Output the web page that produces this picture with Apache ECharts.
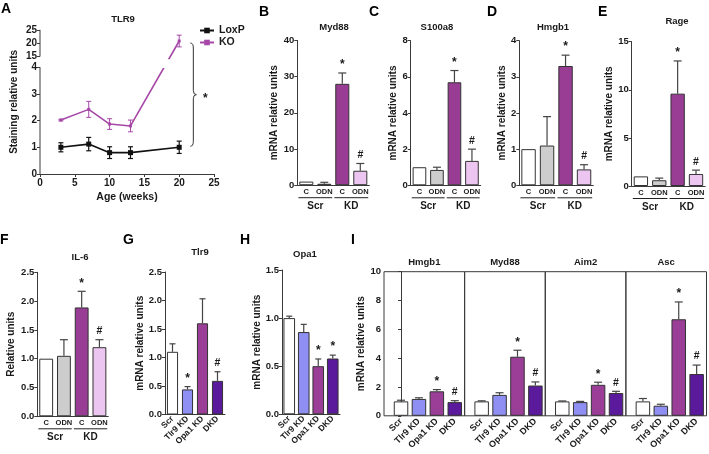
<!DOCTYPE html>
<html><head><meta charset="utf-8">
<script src="https://cdn.jsdelivr.net/npm/echarts@6/dist/echarts.min.js"></script>
<style>html,body{margin:0;padding:0;background:#fff}#c{width:709px;height:454px}</style>
</head><body><div id="c"></div>
<script>
// ---------- Panel A (TLR9 staining) ----------
const ageWeeks = [3, 7, 10, 13, 20];
const loxpMean = [1.0, 1.12, 0.8, 0.8, 1.0];
const loxpErr  = [0.17, 0.25, 0.22, 0.22, 0.23];
const koMean   = [2.02, 2.42, 1.87, 1.8, 20.8];
const koErr    = [0.03, 0.3, 0.2, 0.22, 2.2];
const aTicks   = [0, 1, 2, 3, 4, 15, 20, 25];
const aXTicks  = [0, 5, 10, 15, 20, 25];

// ---------- Panels B–F (Scr / KD, C / ODN) ----------
const scrKdCats   = ['C', 'ODN', 'C', 'ODN'];
const scrKdGroups = ['Scr', 'KD'];
const scrKdSig    = ['', '', '*', '#'];
const myd88Mean  = [1.0, 0.4, 28.0, 4.0];
const myd88Err   = [0, 0.4, 3.0, 2.0];
const s100a8Mean = [1.0, 0.85, 5.7, 1.35];
const s100a8Err  = [0, 0.15, 0.65, 0.65];
const hmgb1Mean  = [1.0, 1.1, 3.3, 0.44];
const hmgb1Err   = [0, 0.8, 0.3, 0.13];
const rageMean   = [1.0, 0.6, 9.6, 1.25];
const rageErr    = [0, 0.22, 3.4, 0.4];
const il6Mean    = [1.0, 1.05, 1.89, 1.2];
const il6Err     = [0, 0.28, 0.28, 0.13];

// ---------- Panels G–I ----------
const kdCats   = ['Scr', 'Tlr9 KD', 'Opa1 KD', 'DKD'];
const tlr9Mean = [1.1, 0.44, 1.6, 0.59];
const tlr9Err  = [0.14, 0.05, 0.43, 0.16];
const tlr9Sig  = ['', '*', '', '#'];
const opa1Mean = [1.0, 0.855, 0.5, 0.58];
const opa1Err  = [0.02, 0.08, 0.075, 0.035];
const opa1Sig  = ['', '', '*', '*'];
const iGenes   = ['Hmgb1', 'Myd88', 'Aim2', 'Asc'];
const iMeans = [
  [1.0, 1.17, 1.7, 0.95],
  [1.0, 1.45, 4.1, 2.1],
  [1.0, 0.95, 2.15, 1.58],
  [1.0, 0.7, 6.7, 2.9]
];
const iErrs = [
  [0.08, 0.08, 0.12, 0.1],
  [0.04, 0.15, 0.45, 0.25],
  [0.03, 0.05, 0.18, 0.12],
  [0.2, 0.1, 1.2, 0.62]
];
const iSig = ['', '', '*', '#'];

// ---------- styling ----------
const FONT = '"Liberation Sans", Arial, Helvetica, sans-serif';
const AX = '#3a3a3a';
const TXT = '#1a1a1a';
const scrKdColors = ['#ffffff', '#cdcdcd', '#983c94', '#ecc6f1'];
const kdColors    = ['#ffffff', '#8f8ff3', '#9a3e98', '#5b1a9b'];
const loxpColor = '#111111';
const koColor   = '#a648a8';

// axis break mapping for panel A (display units)
const BRK_LO = 4, BRK_HI = 15, BRK_GAP = 0.4, UP_SCALE = 0.1;
function aDisp(v) { return v <= BRK_LO ? v : BRK_LO + BRK_GAP + (v - BRK_HI) * UP_SCALE; }

const grids = [], xAxes = [], yAxes = [], series = [];

function tickLbl(size) {
  return { fontFamily: FONT, fontWeight: 'bold', fontSize: size, color: TXT };
}
function yAxisBase(gi, min, max, interval, dec, name, gap, extra) {
  return Object.assign({
    type: 'value', gridIndex: gi, min: min, max: max, interval: interval,
    axisLine: { show: true, lineStyle: { color: AX, width: 1 } },
    axisTick: { show: true, inside: false, length: 3, lineStyle: { color: AX } },
    splitLine: { show: false },
    axisLabel: Object.assign({ margin: 3, formatter: v => v.toFixed(dec) }, tickLbl(9.5)),
    name: name, nameLocation: 'middle', nameGap: gap,
    nameTextStyle: { fontFamily: FONT, fontWeight: 'bold', fontSize: 10, color: TXT }
  }, extra || {});
}

function errRender(xs, means, errs, sigs, o) {
  const tf = o.tf || (v => v);
  return function (params, api) {
    const i = params.dataIndex;
    const x = xs[i], m = means[i], e = errs[i];
    const pTop = api.coord([x, tf(m + e)]);
    const pBot = api.coord([x, tf(o.both ? m - e : m)]);
    const hw = o.cap / 2;
    const st = { stroke: o.color, lineWidth: o.lw || 1 };
    const ch = [];
    if (e > 0) {
      ch.push({ type: 'line', shape: { x1: pTop[0], y1: pTop[1], x2: pBot[0], y2: pBot[1] }, style: st });
      ch.push({ type: 'line', shape: { x1: pTop[0] - hw, y1: pTop[1], x2: pTop[0] + hw, y2: pTop[1] }, style: st });
      if (o.both) ch.push({ type: 'line', shape: { x1: pBot[0] - hw, y1: pBot[1], x2: pBot[0] + hw, y2: pBot[1] }, style: st });
    }
    if (sigs && sigs[i]) {
      const star = sigs[i] === '*';
      ch.push({ type: 'text', x: pTop[0], y: pTop[1] - (star ? 2 : 3),
        style: { text: sigs[i], align: 'center', verticalAlign: 'bottom',
          font: 'bold ' + (star ? 12 : 10.5) + 'px ' + FONT, fill: TXT } });
    }
    return { type: 'group', children: ch };
  };
}

// ---------- Panel A ----------
grids.push({ left: 40, top: 29.8, width: 174, height: 144.2 });
xAxes.push({
  type: 'value', gridIndex: 0, min: 0, max: 25, interval: 5,
  axisLine: { show: true, lineStyle: { color: AX } },
  axisTick: { show: true, length: 3, lineStyle: { color: AX } },
  splitLine: { show: false },
  axisLabel: Object.assign({ margin: 4 }, tickLbl(10)),
  name: 'Age (weeks)', nameLocation: 'middle', nameGap: 18,
  nameTextStyle: { fontFamily: FONT, fontWeight: 'bold', fontSize: 10.5, color: TXT }
});
yAxes.push(yAxisBase(0, 0, aDisp(25), null, 0, 'Staining relative units', 21, {
  interval: undefined,
  axisLine: { show: false },
  axisTick: { show: true, length: 3, lineStyle: { color: AX }, customValues: aTicks.map(aDisp) },
  axisLabel: Object.assign({ margin: 3, customValues: aTicks.map(aDisp),
    formatter: v => { let best = aTicks[0]; aTicks.forEach(t => { if (Math.abs(aDisp(t) - v) < Math.abs(aDisp(best) - v)) best = t; }); return String(best); } }, tickLbl(10))
}));
series.push({
  name: 'LoxP', type: 'line', xAxisIndex: 0, yAxisIndex: 0,
  data: ageWeeks.map((x, i) => [x, aDisp(loxpMean[i])]),
  symbol: 'rect', symbolSize: 5, color: loxpColor,
  lineStyle: { color: loxpColor, width: 1.6 }, itemStyle: { color: loxpColor }, z: 3
});
series.push({
  name: 'KO', type: 'line', xAxisIndex: 0, yAxisIndex: 0,
  data: ageWeeks.map((x, i) => [x, aDisp(koMean[i])]),
  symbol: 'rect', symbolSize: 3, color: koColor,
  lineStyle: { color: koColor, width: 1.6 }, itemStyle: { color: koColor }, z: 3
});
series.push({
  name: 'LoxP err', type: 'custom', xAxisIndex: 0, yAxisIndex: 0, clip: false, z: 4,
  data: ageWeeks.map((x, i) => [x, aDisp(loxpMean[i])]),
  renderItem: errRender(ageWeeks, loxpMean, loxpErr, null, { both: true, cap: 5, color: loxpColor, lw: 1.2, tf: aDisp })
});
series.push({
  name: 'KO err', type: 'custom', xAxisIndex: 0, yAxisIndex: 0, clip: false, z: 4,
  data: ageWeeks.map((x, i) => [x, aDisp(koMean[i])]),
  renderItem: errRender(ageWeeks, koMean, koErr, null, { both: true, cap: 5, color: koColor, lw: 1, tf: aDisp })
});
// broken y axis line + gap across the break + significance bracket
series.push({
  name: 'axis break', type: 'custom', xAxisIndex: 0, yAxisIndex: 0, clip: false, z: 6, silent: true,
  data: [[0, 0]],
  renderItem: function (params, api) {
    const a0 = api.coord([0, aDisp(0)]), a1 = api.coord([0, aDisp(BRK_LO)]);
    const b0 = api.coord([0, aDisp(BRK_HI)]), b1 = api.coord([0, aDisp(25)]);
    const g0 = api.coord([14, BRK_LO - 0.03]), g1 = api.coord([20.6, BRK_LO + 0.3]);
    const last = ageWeeks.length - 1;
    const bx = api.coord([21.6, 0])[0];
    const top = api.coord([0, aDisp(koMean[last])])[1] + 2;
    const bot = api.coord([0, aDisp(loxpMean[last])])[1] - 1;
    const mid = (top + bot) / 2;
    const path = 'M' + bx + ' ' + top + ' Q' + (bx + 3) + ' ' + top + ' ' + (bx + 3) + ' ' + (top + 5) +
      ' L' + (bx + 3) + ' ' + (mid - 4) + ' Q' + (bx + 3) + ' ' + mid + ' ' + (bx + 6) + ' ' + mid +
      ' Q' + (bx + 3) + ' ' + mid + ' ' + (bx + 3) + ' ' + (mid + 4) +
      ' L' + (bx + 3) + ' ' + (bot - 5) + ' Q' + (bx + 3) + ' ' + bot + ' ' + bx + ' ' + bot;
    return { type: 'group', children: [
      { type: 'rect', shape: { x: g0[0], y: g1[1], width: g1[0] - g0[0], height: g0[1] - g1[1] }, style: { fill: '#ffffff' } },
      { type: 'line', shape: { x1: a0[0], y1: a0[1], x2: a1[0], y2: a1[1] }, style: { stroke: AX, lineWidth: 1 } },
      { type: 'line', shape: { x1: b0[0], y1: b0[1], x2: b1[0], y2: b1[1] }, style: { stroke: AX, lineWidth: 1 } },
      { type: 'path', shape: { pathData: path }, style: { stroke: '#333', lineWidth: 1, fill: null } },
      { type: 'text', x: bx + 15, y: mid + 4, style: { text: '*', align: 'center', verticalAlign: 'middle', font: 'bold 12px ' + FONT, fill: TXT } }
    ] };
  }
});

// ---------- Panels B–F ----------
function scrKdPanel(grid, means, errs, yMax, yInt, dec, yName, nameGap) {
  const gi = grids.length;
  grids.push(grid);
  xAxes.push({
    type: 'category', gridIndex: gi, data: scrKdCats,
    axisLine: { show: true, lineStyle: { color: AX } },
    axisTick: { show: false },
    axisLabel: Object.assign({ interval: 0, margin: 3 }, tickLbl(7.5))
  });
  yAxes.push(yAxisBase(gi, 0, yMax, yInt, dec, yName, nameGap));
  series.push({
    type: 'bar', xAxisIndex: gi, yAxisIndex: gi, barCategoryGap: '22%',
    data: means.map((m, i) => ({ value: m, itemStyle: { color: scrKdColors[i], borderColor: '#333', borderWidth: 1 } })),
    z: 2
  });
  series.push({
    type: 'custom', xAxisIndex: gi, yAxisIndex: gi, clip: false, z: 3,
    data: means.map((m, i) => [i, m]),
    renderItem: errRender([0, 1, 2, 3], means, errs, scrKdSig, { cap: 8, color: '#444', lw: 1.2 })
  });
  series.push({
    type: 'custom', xAxisIndex: gi, yAxisIndex: gi, clip: false, z: 3, silent: true,
    data: scrKdGroups.map((g, k) => [2 * k, 0]),
    renderItem: function (params, api) {
      const k = params.dataIndex;
      const a = api.coord([2 * k, 0]), b = api.coord([2 * k + 1, 0]);
      const bw = api.size([1, 0])[0];
      const y = a[1] + 12.5;
      return { type: 'group', children: [
        { type: 'line', shape: { x1: a[0] - bw * 0.44, y1: y, x2: b[0] + bw * 0.44, y2: y }, style: { stroke: '#222', lineWidth: 1 } },
        { type: 'text', x: (a[0] + b[0]) / 2, y: y + 3.5, style: { text: scrKdGroups[k], align: 'center', verticalAlign: 'top', font: 'bold 10px ' + FONT, fill: TXT } }
      ] };
    }
  });
}
scrKdPanel({ left: 297.3, top: 40.4, width: 72, height: 144.8 }, myd88Mean, myd88Err, 40, 10, 0, 'mRNA relative units', 18);
scrKdPanel({ left: 410.7, top: 40.7, width: 70, height: 144.6 }, s100a8Mean, s100a8Err, 8, 2, 0, 'mRNA relative units', 11);
scrKdPanel({ left: 519.3, top: 40.7, width: 74, height: 144.6 }, hmgb1Mean, hmgb1Err, 4, 1, 0, 'mRNA relative units', 11);
scrKdPanel({ left: 631.7, top: 41.7, width: 73.5, height: 144.3 }, rageMean, rageErr, 15, 5, 0, 'mRNA relative units', 16);
scrKdPanel({ left: 37.3, top: 272.3, width: 71, height: 144 }, il6Mean, il6Err, 2.5, 0.5, 1, 'Relative units', 21);

// ---------- Panels G, H ----------
function kdPanel(grid, means, errs, sigs, yMax, yName, nameGap, gapPct) {
  const gi = grids.length;
  grids.push(grid);
  xAxes.push({
    type: 'category', gridIndex: gi, data: kdCats,
    axisLine: { show: true, lineStyle: { color: AX } },
    axisTick: { show: false },
    axisLabel: Object.assign({ interval: 0, margin: 3, rotate: 45 }, tickLbl(8.5))
  });
  yAxes.push(yAxisBase(gi, 0, yMax, 0.5, 1, yName, nameGap));
  series.push({
    type: 'bar', xAxisIndex: gi, yAxisIndex: gi, barCategoryGap: gapPct,
    data: means.map((m, i) => ({ value: m, itemStyle: { color: kdColors[i], borderColor: '#333', borderWidth: 1 } })),
    z: 2
  });
  series.push({
    type: 'custom', xAxisIndex: gi, yAxisIndex: gi, clip: false, z: 3,
    data: means.map((m, i) => [i, m]),
    renderItem: errRender([0, 1, 2, 3], means, errs, sigs, { cap: 6, color: '#444', lw: 1.2 })
  });
}
kdPanel({ left: 165, top: 272, width: 60, height: 142.5 }, tlr9Mean, tlr9Err, tlr9Sig, 2.5, 'mRNA relative units', 15, '26%');
kdPanel({ left: 282, top: 270, width: 58, height: 144.3 }, opa1Mean, opa1Err, opa1Sig, 1.5, 'mRNA relative units', 17, '20%');

// ---------- Panel I (four facets) ----------
const I_LEFT = 384, I_RIGHT = 706.5, I_TOP = 271.7, I_BOTTOM = 415.8;
const facetW = (I_RIGHT - I_LEFT) / iGenes.length;
iGenes.forEach((g, k) => {
  const gi = grids.length;
  grids.push({ left: I_LEFT + k * facetW, top: I_TOP, width: facetW, height: I_BOTTOM - I_TOP,
    show: true, borderColor: AX, borderWidth: 1, backgroundColor: 'rgba(0,0,0,0)' });
  xAxes.push({
    type: 'value', gridIndex: gi, min: -0.95, max: 3.55,
    axisLine: { show: false }, axisTick: { show: false }, splitLine: { show: false },
    axisLabel: Object.assign({ customValues: [0, 1, 2, 3], formatter: v => kdCats[Math.round(v)], rotate: 45, margin: 4 }, tickLbl(9))
  });
  yAxes.push(yAxisBase(gi, 0, 10, 2, 0, k === 0 ? 'mRNA relative units' : '', 13,
    k === 0 ? {} : { axisLine: { show: false }, axisTick: { show: false }, axisLabel: { show: false } }));
  series.push({
    type: 'bar', xAxisIndex: gi, yAxisIndex: gi, barWidth: 14.5,
    data: iMeans[k].map((m, i) => ({ value: [i, m], itemStyle: { color: kdColors[i], borderColor: '#333', borderWidth: 1 } })),
    z: 2
  });
  series.push({
    type: 'custom', xAxisIndex: gi, yAxisIndex: gi, clip: false, z: 3,
    data: iMeans[k].map((m, i) => [i, m]),
    renderItem: errRender([0, 1, 2, 3], iMeans[k], iErrs[k], iSig, { cap: 8, color: '#444', lw: 1.2 })
  });
});

// ---------- titles & panel letters ----------
const titleTexts = [
  ['TLR9', 123, 19], ['Myd88', 334, 27], ['S100a8', 437, 27], ['Hmgb1', 553, 27.5],
  ['Rage', 677, 21.5], ['IL-6', 80, 257], ['Tlr9', 200, 252], ['Opa1', 305, 254]
];
const letters = [
  ['A', 1, 2], ['B', 259, 5], ['C', 369, 5], ['D', 487, 5], ['E', 598, 5],
  ['F', 0, 233], ['G', 123, 233], ['H', 240, 233], ['I', 351, 233]
];
const graphics = [];
titleTexts.forEach(t => graphics.push({ type: 'text', x: t[1], y: t[2], z: 10,
  style: { text: t[0], align: 'center', verticalAlign: 'middle', font: 'bold 9.5px ' + FONT, fill: TXT } }));
iGenes.forEach((g, k) => graphics.push({ type: 'text', x: I_LEFT + (k + 0.5) * facetW, y: 262.7, z: 10,
  style: { text: g, align: 'center', verticalAlign: 'middle', font: 'bold 9.5px ' + FONT, fill: TXT } }));
letters.forEach(t => graphics.push({ type: 'text', x: t[1], y: t[2], z: 10,
  style: { text: t[0], align: 'left', verticalAlign: 'top', font: 'bold 14px ' + FONT, fill: '#000' } }));

const chart = echarts.init(document.getElementById('c'), null, { renderer: 'canvas', width: 709, height: 454 });
chart.setOption({
  animation: false,
  backgroundColor: '#ffffff',
  textStyle: { fontFamily: FONT },
  legend: {
    data: ['LoxP', 'KO'], orient: 'vertical', left: 199, top: 25, itemGap: 1,
    itemWidth: 14, itemHeight: 7, padding: 0, selectedMode: false,
    textStyle: { fontFamily: FONT, fontWeight: 'bold', fontSize: 10.5, color: TXT }
  },
  grid: grids, xAxis: xAxes, yAxis: yAxes, series: series,
  graphic: graphics
});
</script>
</body></html>
